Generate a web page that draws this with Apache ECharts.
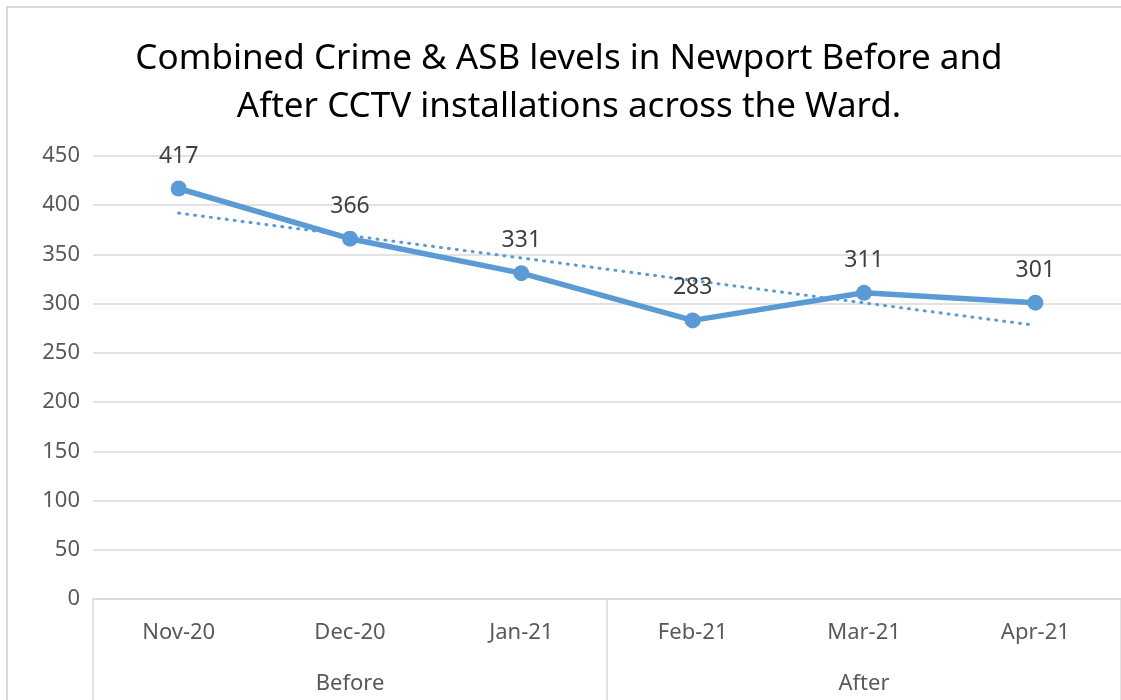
<!DOCTYPE html>
<html>
<head>
<meta charset="utf-8">
<script src="https://cdn.jsdelivr.net/npm/echarts@6/dist/echarts.min.js"></script>
<style>html,body{margin:0;padding:0;background:#fff;}#c{width:1121px;height:700px;}</style>
</head>
<body>
<div id="c"></div>
<script>
const months = ['Nov-20','Dec-20','Jan-21','Feb-21','Mar-21','Apr-21'];
const groups = ['Before','After'];
const crimeAsb = [417, 366, 331, 283, 311, 301];
// linear trendline endpoints
const trend = [392, null, null, null, null, 278];
const yTicks = { min: 0, max: 450, interval: 50 };

const FONT = 'Noto Sans';
const chart = echarts.init(document.getElementById('c'));
chart.setOption({
  animation: false,
  backgroundColor: '#fff',
  textStyle: { fontFamily: FONT },
  title: {
    text: 'Combined Crime & ASB levels in Newport Before and\nAfter CCTV installations across the Ward.',
    left: 564, top: 30, textAlign: 'center',
    textStyle: { fontFamily: FONT, fontSize: 35, fontWeight: 'normal', color: '#000', lineHeight: 48 }
  },
  graphic: [{
    type: 'rect', shape: { x: 7, y: 7, width: 1130, height: 720 },
    style: { fill: 'none', stroke: '#d9d9d9', lineWidth: 2 }, silent: true
  }],
  grid: { left: 93, right: 0, top: 156, bottom: 101 },
  xAxis: [{
    type: 'category', data: months, position: 'bottom', boundaryGap: true,
    axisLine: { show: true, lineStyle: { color: '#d9d9d9', width: 1.5 } },
    axisTick: { show: false },
    axisLabel: { color: '#595959', fontSize: 22, margin: 23, fontFamily: FONT }
  }, {
    type: 'category', data: groups, position: 'bottom', boundaryGap: true,
    axisLine: { show: false },
    axisTick: { show: true, interval: 0, length: 101, lineStyle: { color: '#d9d9d9', width: 1.5 } },
    axisLabel: { color: '#595959', fontSize: 22, margin: 74, fontFamily: FONT }
  }],
  yAxis: {
    type: 'value', min: yTicks.min, max: yTicks.max, interval: yTicks.interval,
    axisLine: { show: false }, axisTick: { show: false },
    axisLabel: { color: '#595959', fontSize: 22, margin: 13, fontFamily: FONT },
    splitLine: { lineStyle: { color: '#d9d9d9', width: 1.5 } }
  },
  series: [{
    name: 'Trend', type: 'line', data: trend, connectNulls: true, xAxisIndex: 0,
    symbol: 'none', lineStyle: { color: '#5b9bd5', width: 3, type: [1, 7], cap: 'round' }, z: 1
  }, {
    name: 'Crime & ASB', type: 'line', data: crimeAsb, xAxisIndex: 0,
    symbol: 'circle', symbolSize: 16,
    lineStyle: { color: '#5b9bd5', width: 5.5 },
    itemStyle: { color: '#5b9bd5' },
    label: { show: true, position: 'top', distance: 13, color: '#404040', fontSize: 23, fontFamily: FONT },
    z: 2
  }]
});
</script>
</body>
</html>
